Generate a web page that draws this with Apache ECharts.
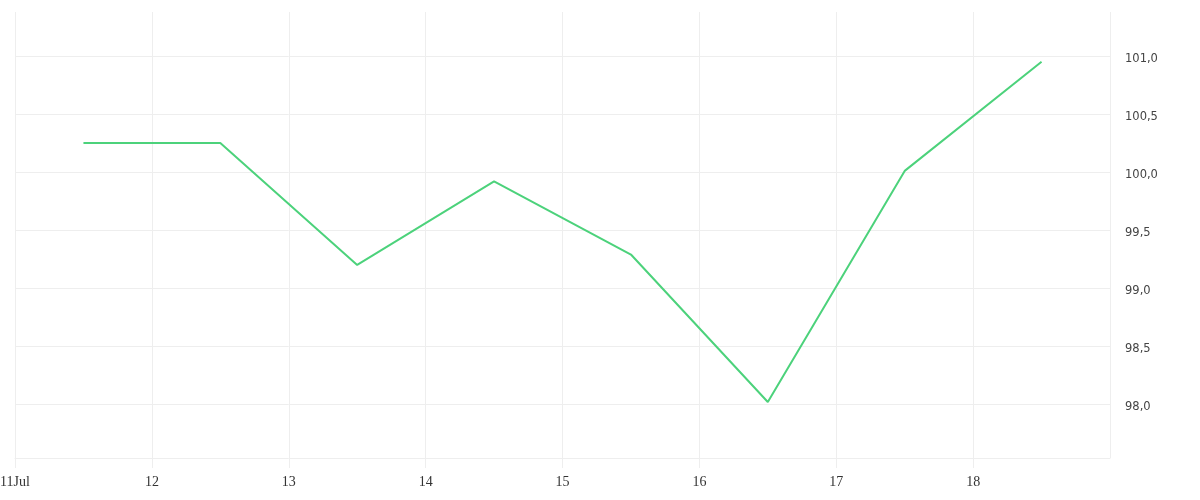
<!DOCTYPE html>
<html>
<head>
<meta charset="utf-8">
<script src="https://cdn.jsdelivr.net/npm/echarts@6/dist/echarts.min.js"></script>
<style>html,body{margin:0;padding:0;background:#fff}#c{width:1200px;height:500px}</style>
</head>
<body>
<div id="c"></div>
<script>
// Data
var days = ['2023-07-11T12:00:00','2023-07-12T12:00:00','2023-07-13T12:00:00','2023-07-14T12:00:00','2023-07-15T12:00:00','2023-07-16T12:00:00','2023-07-17T12:00:00','2023-07-18T12:00:00'];
var values = [100.25, 100.25, 99.20, 99.92, 99.29, 98.02, 100.01, 100.95];
var yTicks = [98.0, 98.5, 99.0, 99.5, 100.0, 100.5, 101.0];
var xStart = '2023-07-11T00:00:00';
var xEnd = '2023-07-19T00:00:00';

var chart = echarts.init(document.getElementById('c'));
var seriesData = days.map(function (d, i) { return [new Date(d).getTime(), values[i]]; });
var DAY = 86400000;
chart.setOption({
  animation: false,
  grid: { left: 15, right: 90, top: 12, bottom: 42, containLabel: false, outerBoundsMode: 'none' },
  xAxis: {
    type: 'time',
    min: new Date(xStart).getTime(),
    max: new Date(xEnd).getTime(),
    minInterval: DAY,
    maxInterval: DAY,
    interval: DAY,
    axisLine: { show: true, lineStyle: { color: '#eeeeee', width: 1 } },
    axisTick: { show: true, length: 10, lineStyle: { color: '#eeeeee' } },
    splitLine: { show: true, lineStyle: { color: '#eeeeee', width: 1 } },
    axisLabel: {
      showMinLabel: true,
      showMaxLabel: false,
      color: '#333',
      fontFamily: 'Liberation Serif',
      fontSize: 14,
      margin: 17,
      formatter: function (v) {
        var d = new Date(v);
        return d.getDate() === 11 ? '11Jul' : String(d.getDate());
      }
    }
  },
  yAxis: {
    type: 'value',
    position: 'right',
    min: 97.538,
    max: 101.378,
    axisLine: { show: false },
    axisTick: { show: false, customValues: yTicks },
    splitLine: { show: true, lineStyle: { color: '#eeeeee', width: 1 } },
    axisLabel: {
      customValues: yTicks,
      margin: 15,
      formatter: function (v) { return '{a|' + v.toFixed(1).replace('.', ',') + '}'; },
      rich: {
        a: {
          color: '#444',
          fontFamily: 'DejaVu Sans',
          fontSize: 11.5,
          padding: [6, 0, 0, 0]
        }
      }
    }
  },
  series: [{
    type: 'line',
    data: seriesData,
    showSymbol: false,
    symbol: 'none',
    lineStyle: { color: '#4cd27b', width: 2 },
    itemStyle: { color: '#4cd27b' }
  }]
});
</script>
</body>
</html>
